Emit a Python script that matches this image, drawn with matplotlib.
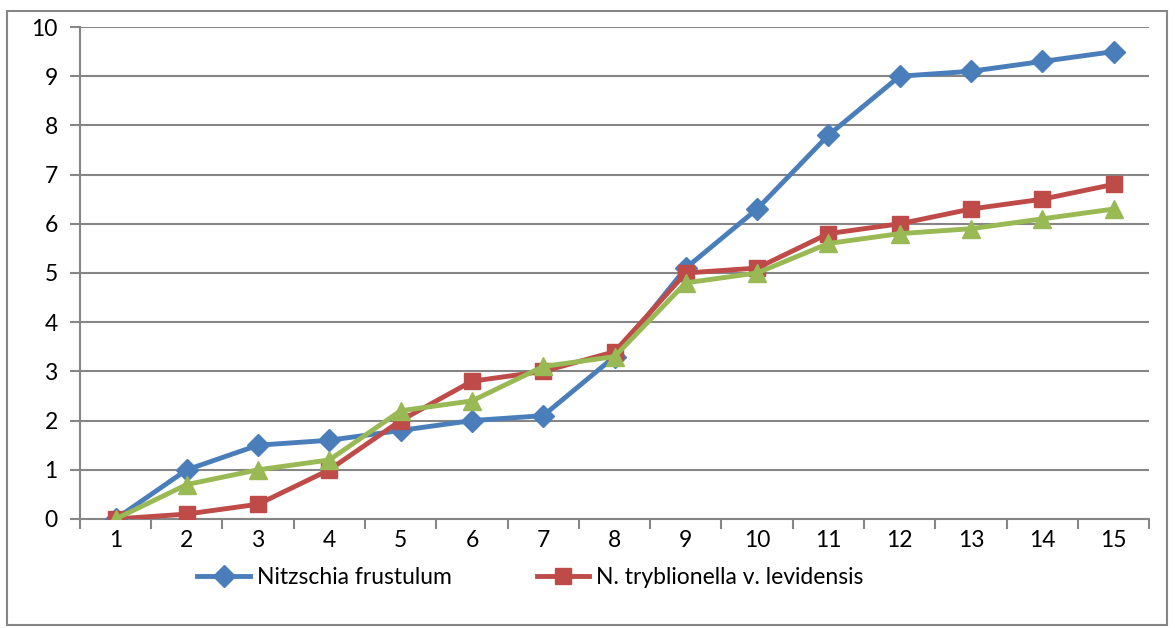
import matplotlib.pyplot as plt
from matplotlib.patches import Rectangle
from matplotlib.ticker import FixedLocator, NullFormatter

plt.rcParams['font.family'] = ['Lato', 'DejaVu Sans']

samples = list(range(1, 16))
nitzschia = [0, 1.0, 1.5, 1.6, 1.8, 2.0, 2.1, 3.3, 5.1, 6.3, 7.8, 9.0, 9.1, 9.3, 9.5]
tryblionella = [0, 0.1, 0.3, 1.0, 2.0, 2.8, 3.0, 3.4, 5.0, 5.1, 5.8, 6.0, 6.3, 6.5, 6.8]
third = [0, 0.7, 1.0, 1.2, 2.2, 2.4, 3.1, 3.3, 4.8, 5.0, 5.6, 5.8, 5.9, 6.1, 6.3]
names = ['Nitzschia frustulum', 'N. tryblionella v. levidensis']

GRAY = '#868686'
FS = 16.5


def draw(fig):
    ax = fig.add_axes([0.068, 0.1736, 0.91, 0.7834])
    l1, = ax.plot(samples, nitzschia, color='#4A7EBB', lw=3.5, marker='D', ms=11,
                  zorder=3)
    l2, = ax.plot(samples, tryblionella, color='#BE4B48', lw=3.5, marker='s', ms=12,
                  zorder=4)
    ax.plot(samples, third, color='#98B954', lw=3.5, marker='^', ms=13, zorder=5)

    ax.set_xlim(0.5, 15.5)
    ax.set_ylim(0, 10)
    ax.set_yticks(range(0, 11))
    ax.set_xticks(samples)
    ax.xaxis.set_minor_locator(FixedLocator([i + 0.5 for i in range(0, 16)]))
    ax.xaxis.set_minor_formatter(NullFormatter())
    ax.tick_params(axis='x', which='major', length=0, pad=8, labelsize=FS)
    ax.tick_params(axis='x', which='minor', length=7, width=1.5, color=GRAY)
    ax.tick_params(axis='y', length=7, width=1.5, color=GRAY, pad=9, labelsize=FS)
    ax.yaxis.grid(True, color=GRAY, lw=1.5)
    ax.set_axisbelow(True)
    for s in ('top', 'right'):
        ax.spines[s].set_visible(False)
    for s in ('left', 'bottom'):
        ax.spines[s].set_color(GRAY)
        ax.spines[s].set_linewidth(1.5)

    fig.legend([l1, l2], names, loc='center left', bbox_to_anchor=(0.168, 0.081),
               ncol=2, frameon=False, fontsize=FS, handlelength=2.3,
               handletextpad=0.3, columnspacing=3.7, borderpad=0, borderaxespad=0)

    fig.patches.append(Rectangle((0.006, 0.005), 0.987, 0.978, transform=fig.transFigure,
                                 fill=False, edgecolor=GRAY, lw=1.5))


def main():
    fig = plt.figure(figsize=(11.75, 6.28), dpi=100)
    draw(fig)
    fig.savefig('out.png')


if __name__ == '__main__':
    main()
